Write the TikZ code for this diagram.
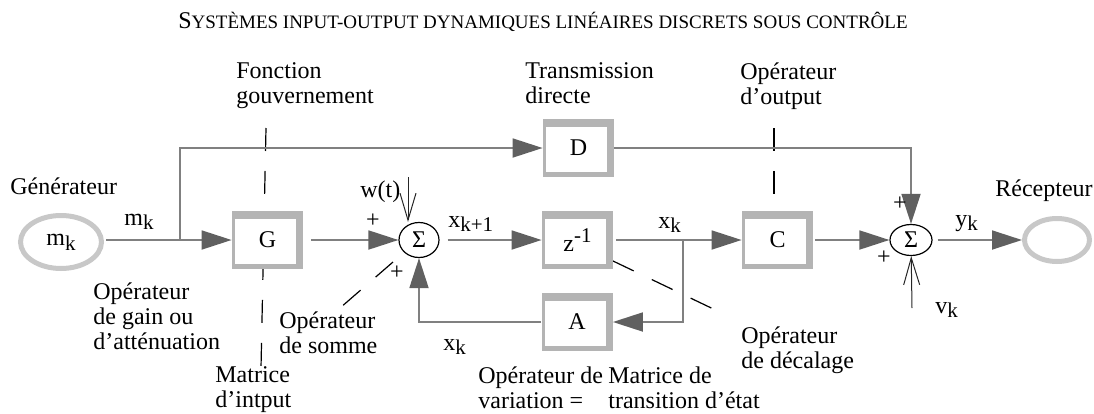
\documentclass[tikz,border=0pt]{standalone}
\usepackage{fontspec}
\setmainfont{Liberation Serif}
\usetikzlibrary{arrows.meta,shapes.geometric}
\definecolor{boxgray}{HTML}{B4B4B4}
\definecolor{ringgray}{HTML}{C8C8C8}
\definecolor{linegray}{HTML}{808080}
\definecolor{tipgray}{HTML}{606060}
% lowered index and raised exponent in text font
\newcommand\sbk[1]{\raisebox{-0.45ex}{\fontsize{10.5}{10.5}\selectfont #1}}
\newcommand\spk[1]{\raisebox{0.8ex}{\fontsize{10.5}{10.5}\selectfont #1}}

\begin{document}
\begin{tikzpicture}[x=0.5pt,y=-0.5pt,
  every node/.style={font=\fontsize{12}{12.5}\selectfont, inner sep=0pt},
  blockbox/.style={fill=boxgray, minimum width=35.5pt, minimum height=29pt,
    path picture={\fill[white]
      ([xshift=1.5pt,yshift=2.5pt]path picture bounding box.south west) rectangle
      ([xshift=-3.5pt,yshift=-4pt]path picture bounding box.north east);}},
  sumnode/.style={ellipse, draw=black, line width=0.6pt, fill=white},
  ring/.style={ellipse, draw=ringgray, line width=2.5pt},
  txt/.style={anchor=north west, align=left},
  flow/.style={draw=linegray, line width=0.9pt,
    -{Triangle[length=15pt,width=9.5pt,color=tipgray]}},
  barb/.style={draw=black!85, line width=0.5pt,
    -{Straight Barb[length=13.5pt,width=8pt]}},
  leader/.style={draw=black, line width=0.6pt, dash pattern=on 11.5pt off 10pt}]

\useasboundingbox (0,0) rectangle (1094,413);

% title
\node (title) at (543,22) {{\fontsize{12}{12}\selectfont S}{\fontsize{9.5}{12}\selectfont YSTÈMES INPUT-OUTPUT DYNAMIQUES LINÉAIRES DISCRETS SOUS CONTRÔLE}};

% dashed leaders (behind the blocks)
\coordinate (gTop) at (266,128);
\coordinate (gBot) at (261,368);
\coordinate (cTop) at (774,128);
\coordinate (zCorner) at (613,261);
\coordinate (zEnd) at (728,316);
\coordinate (sStart) at (393,262);
\coordinate (sEnd) at (340,308);
\draw[leader] (gTop) -- (gBot);
\draw[leader] (zCorner) -- (zEnd);
\draw[leader] (sStart) -- (sEnd);

% blocks
\node[blockbox] (G) at (267.5,240) {G};
\node[blockbox] (D) at (578.5,148) {D};
\node[blockbox] (Z) at (577.5,240) {z\spk{-1}};
\node[blockbox] (A) at (577,322) {A};
\node[blockbox] (C) at (777.5,240) {C};
\draw[leader] (cTop) -- (cTop |- C.north);

% summation points
\node[sumnode, minimum width=20pt, minimum height=17.5pt] (S1) at (419,240) {Σ};
\node[sumnode, minimum width=21pt, minimum height=15.5pt] (S2) at (911,240) {Σ};

% generator and receiver
\node[ring, minimum width=40.5pt, minimum height=26.5pt] (gen) at (61,242) {m\sbk{k}};
\node[ring, minimum width=32.5pt, minimum height=21.5pt] (rec) at (1057,240) {};

% signal flow
\coordinate (j1) at (180,240);
\coordinate (j2) at (683,240);
\coordinate (wt) at (408,177);
\coordinate (vk) at (912,308);
\draw[flow, shorten <=1pt] (gen.east |- G) -- (G);
\draw[flow] (j1) |- (D);
\draw[flow, shorten <=4pt] (G) -- (S1);
\draw[flow, shorten <=4pt] (S1) -- (Z);
\draw[flow, shorten <=1.5pt] (Z) -- (C);
\draw[flow] (j2) |- (A);
\draw[flow] (A) -| (S1);
\draw[flow, shorten <=1pt] (C) -- (S2);
\draw[flow] (D) -| (S2);
\draw[flow, shorten <=2.5pt] (S2) -- (rec);
\draw[barb] (wt) -- (wt |- S1.north);
\draw[barb] (vk) -- (S2);

% signs
\node (p1) at (373,221) {+};
\node (p2) at (397,273) {+};
\node (p3) at (900,204) {+};
\node (p4) at (884,258) {+};

% signal names
\node[anchor=base west] (lmk) at (124,225) {m\sbk{k}};
\node[anchor=base west] (lwt) at (360,197) {w(t)};
\node[anchor=base west] (lxk1) at (448,227) {x\sbk{k+1}};
\node[anchor=base west] (lxk) at (658,228) {x\sbk{k}};
\node[anchor=base west] (lxkb) at (443,350) {x\sbk{k}};
\node[anchor=base west] (lyk) at (955,226) {y\sbk{k}};
\node[anchor=base west] (lvk) at (935,313) {v\sbk{k}};

% descriptions
\node[anchor=base west] (lgen) at (10,194) {Générateur};
\node[anchor=base west] (lrec) at (995,196) {Récepteur};
\node[txt] (lfon) at (236,62) {Fonction\\gouvernement};
\node[txt] (ltra) at (525,62) {Transmission\\directe};
\node[txt] (lout) at (740,62) {Opérateur\\d’output};
\node[txt] (lgain) at (93,282) {Opérateur\\de gain ou\\d’atténuation};
\node[txt] (lsom) at (279,311) {Opérateur\\de somme};
\node[txt] (lmat) at (215,366) {Matrice\\d’intput};
\node[txt] (lvar) at (478,366) {Opérateur de\\variation =};
\node[txt] (ltrans) at (608,366) {Matrice de\\transition d’état};
\node[txt] (ldec) at (741,326) {Opérateur\\de décalage};
\end{tikzpicture}
\end{document}
